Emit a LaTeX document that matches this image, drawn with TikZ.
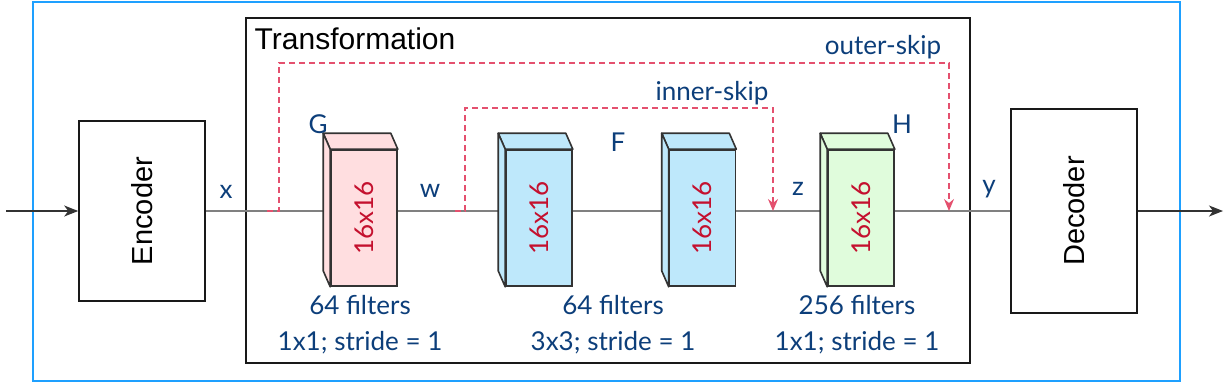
\documentclass[tikz,border=0pt]{standalone}
\usepackage{fontspec}
\setmainfont{Liberation Sans}
\newfontfamily\labelfont{Lato}
\usetikzlibrary{arrows.meta, calc, positioning}

\definecolor{frameblue}{RGB}{30,160,255}
\definecolor{textblue}{RGB}{12,62,122}
\definecolor{sizered}{RGB}{196,16,46}
\definecolor{skipred}{RGB}{228,80,110}
\definecolor{gpink}{RGB}{255,222,224}
\definecolor{fblue}{RGB}{190,232,251}
\definecolor{hgreen}{RGB}{224,252,220}
\definecolor{edgegray}{RGB}{51,51,51}

\tikzset{
  box/.style={draw=black!90, line width=1.6pt, minimum width=126pt, inner sep=0pt,
    font=\fontsize{29}{33}\selectfont},
  front/.style={draw=edgegray, line width=1.6pt, minimum width=66pt, minimum height=136pt,
    inner sep=0pt, text=sizered, font=\labelfont\fontsize{26}{30}\selectfont},
  lbl/.style={text=textblue, font=\labelfont\fontsize{26}{30}\selectfont},
  wire/.style={draw=gray, line width=1.4pt},
  skip/.style={draw=skipred, line width=1.4pt, dash pattern=on 6pt off 4pt,
    -{Stealth[length=12pt, width=10pt, inset=4pt]}},
}

\begin{document}
\begin{tikzpicture}[x=1pt, y=-1pt]
\useasboundingbox (0,0) rectangle (1232,384);
\draw[frameblue, line width=2pt] (33,2) rectangle (1180,381);

% Encoder, transformation, decoder
\node[box, minimum height=180pt] (enc) at (142,211) {\rotatebox{90}{Encoder}};
\node[box, minimum height=204pt] (dec) at (1074,211) {\rotatebox{90}{Decoder}};
\node[draw=black!90, line width=1.6pt, minimum width=724pt, minimum height=345pt, inner sep=0pt] (trans) at (608,190.5) {};
\node[anchor=base west, font=\fontsize{30}{34}\selectfont] (title) at ($(trans.north west)+(6,32)$) {Transformation};

% Filter blocks
\node[front, fill=gpink] (G) at (364,218) {\rotatebox{90}{16x16}};
\node[front, fill=fblue] (F1) at (539,218) {\rotatebox{90}{16x16}};
\node[front, fill=fblue] (F2) at (702.5,218) {\rotatebox{90}{16x16}};
\node[front, fill=hgreen] (H) at (861,218) {\rotatebox{90}{16x16}};

% Main signal path
\coordinate (in) at (6,211);
\coordinate (out) at (1223,211);
\draw[line width=1.4pt, edgegray, -{Stealth[length=14pt, width=11pt, inset=4pt]}] (in) -- (enc.west);
\draw[line width=1.4pt, edgegray, -{Stealth[length=14pt, width=11pt, inset=4pt]}] (dec.east) -- (out);
\draw[wire] (enc.east) -- (enc.east -| G.west);
\draw[wire] (G.east |- enc.east) -- (F1.west |- enc.east);
\draw[wire] (F1.east |- enc.east) -- (F2.west |- enc.east);
\draw[wire] (F2.east |- enc.east) -- (H.west |- enc.east);
\draw[wire] (H.east |- enc.east) -- (dec.west);

% Top and side faces of the blocks
\foreach \b/\c in {G/gpink, F1/fblue, F2/fblue, H/hgreen} {
  \draw[draw=edgegray, line width=1.6pt, fill=\c, line join=round]
    (\b.north west) -- ++(-7,-16) -- ($(\b.north east)+(-7,-16)$) -- (\b.north east) -- cycle;
  \draw[draw=edgegray, line width=1.6pt, fill=\c, line join=round]
    (\b.north west) -- ++(-7,-16) -- ($(\b.south west)+(-7,-16)$) -- (\b.south west) -- cycle;
}

% Skip connections
\coordinate (os) at (267,211);
\coordinate (oe) at (949,211);
\coordinate (is) at (455,211);
\coordinate (ie) at (773,211);
\draw[skip] (os) -- (279,211) -- (279,63) -- (949,63) -- (oe);
\draw[skip] (is) -- (465,211) -- (465,108) -- (773,108) -- (ie);
\node[lbl] (outer) at (883,47) {outer-skip};
\node[lbl] (inner) at (712,93) {inner-skip};

% Signal and block labels
\node[lbl] (lx) at (226,192) {x};
\node[lbl] (lw) at (430,191) {w};
\node[lbl] (lz) at (798,189) {z};
\node[lbl] (ly) at (989,189) {y};
\node[lbl] (lG) at (318,124) {G};
\node[lbl] (lF) at (618,142) {F};
\node[lbl] (lH) at (902,124) {H};

% Filter descriptions
\node[lbl] (g1) at (360,305) {64 filters};
\node[lbl] (g2) at (360,343) {1x1; stride = 1};
\node[lbl] (f1) at (613,305) {64 filters};
\node[lbl] (f2) at (613,343) {3x3; stride = 1};
\node[lbl] (h1) at (857,305) {256 filters};
\node[lbl] (h2) at (857,343) {1x1; stride = 1};
\end{tikzpicture}
\end{document}
